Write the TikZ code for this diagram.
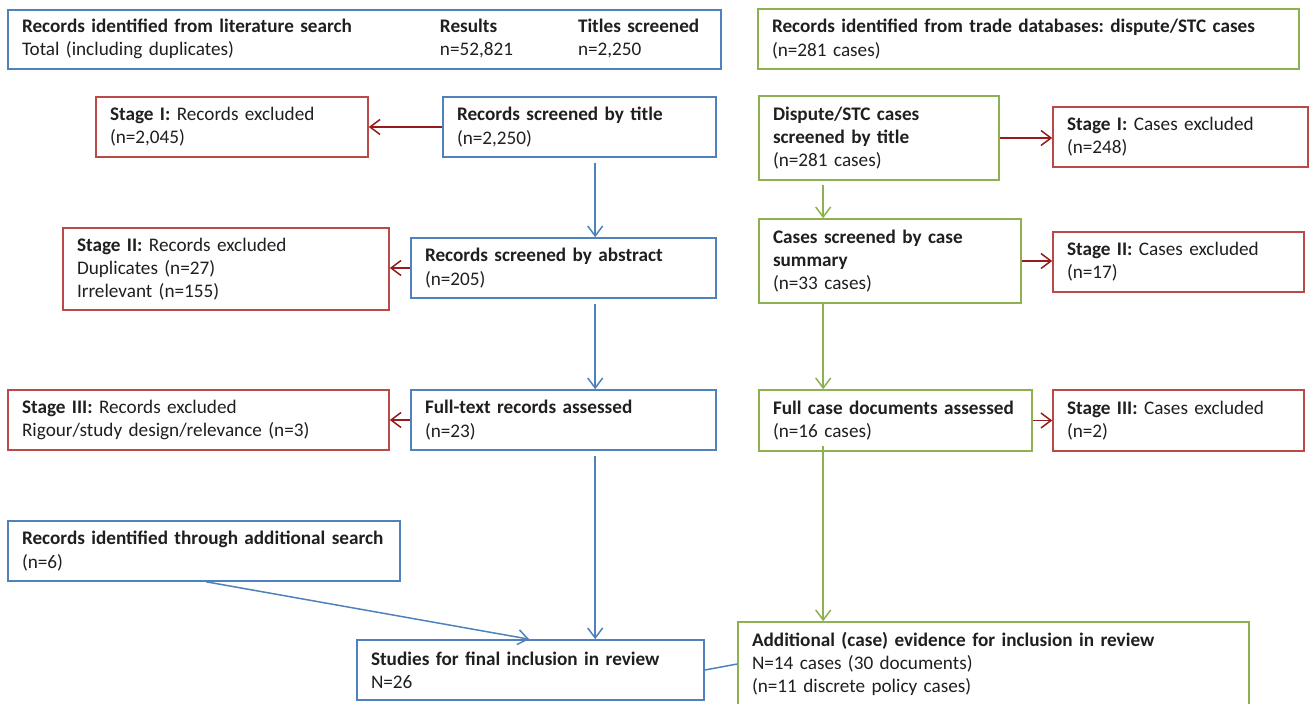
\documentclass[tikz,border=0pt]{standalone}
\usepackage{fontspec}
\setmainfont{Carlito}
\frenchspacing
\usetikzlibrary{arrows.meta}
\definecolor{cblue}{HTML}{4F81BD}
\definecolor{cgreen}{HTML}{8DB150}
\definecolor{cred}{HTML}{B94A48}
\definecolor{cdred}{HTML}{941C1C}
\tikzset{
  box/.style={draw, line width=1.6pt, rectangle, inner xsep=14pt, inner ysep=0pt,
    align=left, font=\fontsize{19.2pt}{23.3pt}\selectfont, text=black!88},
  bluebox/.style={box, draw=cblue},
  greenbox/.style={box, draw=cgreen},
  redbox/.style={box, draw=cred},
  tip/.style={-{Straight Barb[length=10pt,width=15pt]}},
  bluearrow/.style={tip, draw=cblue, line width=1.5pt},
  greenarrow/.style={tip, draw=cgreen, line width=1.5pt},
  redarrow/.style={tip, draw=cdred, line width=1.5pt},
}
\begin{document}
\begin{tikzpicture}[x=1pt,y=-1pt]
\useasboundingbox (0,0) rectangle (1309,704);
% left column
\node[bluebox, minimum width=713pt, minimum height=59pt, text width=685pt] (top) at (364.5,39.5)
  {\begin{tabular}{@{}p{418pt}@{}p{138pt}@{}l@{}}
   \textbf{Records identified from literature search} & \textbf{Results} & \textbf{Titles screened}\\
   Total (including duplicates) & n=52,821 & n=2,250
   \end{tabular}};
\node[redbox, minimum width=272pt, minimum height=60pt, text width=244pt] (s1) at (232,127)
  {\textbf{Stage I:} Records excluded\\(n=2,045)};
\node[bluebox, minimum width=273pt, minimum height=60pt, text width=245pt] (t1) at (579.5,127)
  {\textbf{Records screened by title}\\(n=2,250)};
\node[redbox, minimum width=326pt, minimum height=82pt, text width=298pt] (s2) at (226,269)
  {\textbf{Stage II:} Records excluded\\Duplicates (n=27)\\Irrelevant (n=155)};
\node[bluebox, minimum width=305pt, minimum height=60pt, text width=277pt] (t2) at (563.5,268)
  {\textbf{Records screened by abstract}\\(n=205)};
\node[redbox, minimum width=381pt, minimum height=60pt, text width=353pt] (s3) at (198.5,420)
  {\textbf{Stage III:} Records excluded\\Rigour/study design/relevance (n=3)};
\node[bluebox, minimum width=305pt, minimum height=60pt, text width=277pt] (t3) at (563.5,420)
  {\textbf{Full-text records assessed}\\(n=23)};
\node[bluebox, minimum width=392pt, minimum height=60pt, text width=364pt] (add) at (204,551)
  {\textbf{Records identified through additional search}\\(n=6)};
\node[bluebox, minimum width=347pt, minimum height=60pt, text width=319pt] (fin) at (530.5,670)
  {\textbf{Studies for final inclusion in review}\\N=26};
% right column
\node[greenbox, minimum width=541pt, minimum height=60pt, text width=513pt] (R0) at (1028.5,39)
  {\textbf{Records identified from trade databases: dispute/STC cases}\\(n=281 cases)};
\node[greenbox, minimum width=240pt, minimum height=84pt, text width=212pt] (r1) at (879,138)
  {\textbf{Dispute/STC cases}\\\textbf{screened by title}\\(n=281 cases)};
\node[redbox, minimum width=255pt, minimum height=60pt, text width=227pt] (e1) at (1180.5,137)
  {\textbf{Stage I:} Cases excluded\\(n=248)};
\node[greenbox, minimum width=262pt, minimum height=84pt, text width=234pt] (r2) at (890,261)
  {\textbf{Cases screened by case}\\\textbf{summary}\\(n=33 cases)};
\node[redbox, minimum width=251pt, minimum height=60pt, text width=223pt] (e2) at (1178.5,262)
  {\textbf{Stage II:} Cases excluded\\(n=17)};
\node[greenbox, minimum width=273pt, minimum height=61pt, text width=245pt] (r3) at (895.5,420.5)
  {\textbf{Full case documents assessed}\\(n=16 cases)};
\node[redbox, minimum width=251pt, minimum height=61pt, text width=223pt] (e3) at (1178.5,420.5)
  {\textbf{Stage III:} Cases excluded\\(n=2)};
\node[greenbox, minimum width=511pt, minimum height=84pt, text width=483pt] (r4) at (993.5,664)
  {\textbf{Additional (case) evidence for inclusion in review}\\N=14 cases (30 documents)\\(n=11 discrete policy cases)};
% left connectors
\draw[redarrow] (t1.west) -- (t1.west -| s1.east);
\draw[redarrow] (t2.west) -- (t2.west -| s2.east);
\draw[redarrow] (t3.west) -- (t3.west -| s3.east);
\draw[bluearrow, shorten <=5pt] ([xshift=153pt]t1.south west) -- ([xshift=185pt]t2.north west);
\draw[bluearrow, shorten <=5pt] ([xshift=185pt]t2.south west) -- ([xshift=185pt]t3.north west);
\draw[bluearrow, shorten <=5pt] ([xshift=185pt]t3.south west) -- ([xshift=239pt]fin.north west);
\draw[bluearrow] ([xshift=199pt]add.south west) -- ([xshift=173pt]fin.north west);
\draw[draw=cblue, line width=1.5pt] (fin.east) -- (r4.west);
% right connectors
\draw[redarrow] (r1.east) -- (r1.east -| e1.west);
\draw[redarrow] (r2.east) -- (r2.east -| e2.west);
\draw[redarrow] (r3.east) -- (r3.east -| e3.west);
\draw[greenarrow, shorten <=4pt] ([xshift=65pt]r1.south west) -- ([xshift=65pt]r2.north west);
\draw[greenarrow] ([xshift=65pt]r2.south west) -- ([xshift=65pt]r3.north west);
\draw[greenarrow] ([xshift=65pt,yshift=6pt]r3.south west) -- ([xshift=86pt]r4.north west);
\end{tikzpicture}
\end{document}
